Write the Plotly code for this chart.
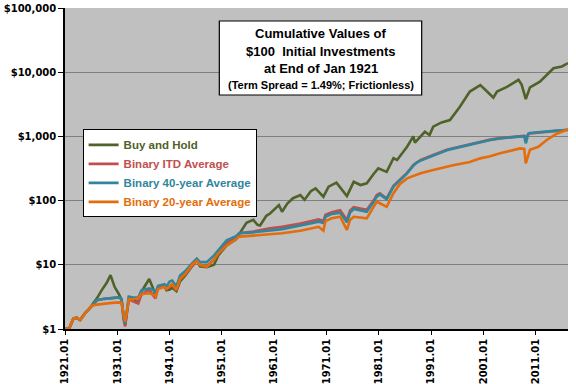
import plotly.graph_objects as go

# ---- data ----
bh_years = [1921.0, 1921.8, 1922.6, 1923.2, 1923.9, 1924.8, 1925.5, 1926.1, 1927.1, 1928.0,
            1929.0, 1929.7, 1930.5, 1931.3, 1931.8, 1932.2, 1932.5, 1932.9, 1933.2, 1934.0,
            1935.0, 1935.6, 1936.5, 1937.1, 1938.0, 1938.3, 1938.8, 1940.0, 1940.4, 1941.0,
            1941.5, 1942.3, 1943.0, 1944.0, 1945.5, 1946.2, 1946.8, 1948.1, 1949.5, 1950.3,
            1951.9, 1953.7, 1954.3, 1955.7, 1957.0, 1957.8, 1958.3, 1959.5, 1960.2, 1961.5,
            1961.9, 1962.5, 1963.5, 1964.6, 1966.0, 1966.8, 1968.0, 1968.9, 1970.4, 1971.4,
            1972.9, 1974.9, 1976.2, 1977.5, 1978.7, 1980.0, 1980.9, 1982.5, 1983.8, 1984.5,
            1985.5, 1986.4, 1987.6, 1987.9, 1989.8, 1990.7, 1991.4, 1993.0, 1994.6, 1996.5,
            1998.4, 2000.4, 2001.7, 2002.9, 2003.6, 2005.5, 2007.7, 2008.3, 2009.1, 2009.9,
            2011.8, 2013.1, 2014.4, 2016.0, 2017.2]
buy_and_hold = [1.0, 1.02, 1.45, 1.5, 1.38, 1.75, 2.0, 2.3, 3.0, 4.0,
                5.3, 6.9, 4.5, 3.5, 2.9, 1.6, 1.15, 2.0, 3.0, 2.8,
                2.6, 3.8, 5.0, 6.0, 4.0, 3.3, 4.6, 4.6, 4.0, 4.1,
                4.4, 3.9, 5.5, 6.8, 10, 12, 9.5, 9.2, 10, 14,
                20, 25, 30, 45, 50, 42, 41, 58, 63, 79,
                85, 67, 90, 109, 122, 103, 140, 155, 115, 165,
                190, 118, 196, 175, 186, 260, 318, 280, 456, 430,
                550, 690, 1000, 800, 1180, 1050, 1420, 1650, 1800, 2900,
                5000, 6300, 5000, 4000, 5000, 5900, 7600, 6400, 3800, 5800,
                7100, 9100, 11500, 12300, 13900]

bin_years = [1921.0, 1921.8, 1922.6, 1923.2, 1923.9, 1924.8, 1925.5, 1926.1, 1927.1, 1928.5,
             1930.0, 1931.3, 1931.8, 1932.2, 1932.5, 1932.9, 1933.2, 1934.0, 1935.0, 1935.6,
             1937.1, 1938.0, 1938.3, 1938.8, 1940.0, 1940.4, 1941.0, 1941.5, 1942.3, 1943.0,
             1944.0, 1945.5, 1946.2, 1946.8, 1948.1, 1949.5, 1950.3, 1951.9, 1953.7, 1954.3,
             1957.0, 1960.2, 1962.5, 1966.0, 1969.5, 1970.4, 1970.8, 1972.0, 1973.6, 1974.9,
             1975.5, 1976.2, 1977.5, 1978.7, 1980.0, 1980.6, 1981.2, 1982.5, 1983.8, 1985.0,
             1986.4, 1987.6, 1988.3, 1989.0, 1991.4, 1994.0, 1995.2, 1998.4, 2000.4, 2002.3,
             2004.2, 2008.0, 2008.8, 2009.1, 2009.6, 2009.9, 2011.5, 2013.1, 2015.0, 2016.0,
             2017.2]
binary_itd = [1.0, 1.02, 1.45, 1.5, 1.38, 1.75, 2.0, 2.3, 2.8, 2.95,
              3.05, 3.1, 2.9, 1.4, 1.1, 1.9, 2.9, 2.7, 2.5, 3.4,
              4.1, 3.2, 3.0, 4.4, 4.7, 4.2, 4.6, 4.8, 4.0, 6.0,
              7.2, 10.2, 11.5, 10, 9.5, 12, 16, 22, 27, 31,
              33, 37, 39, 44, 51, 48, 60, 66, 71, 50,
              70, 79, 76, 72, 100, 122, 130, 108, 170, 210,
              270, 360, 400, 430, 515, 620, 655, 760, 830, 890,
              940, 1010, 1020, 960, 1090, 1110, 1150, 1190, 1220, 1240,
              1260]
binary_40y = [1.0, 1.02, 1.45, 1.5, 1.38, 1.75, 2.0, 2.3, 2.8, 2.95,
              3.05, 3.1, 2.9, 1.5, 1.2, 2.0, 3.2, 3.1, 3.1, 4.0,
              4.3, 4.0, 3.6, 4.7, 5.0, 4.6, 5.5, 5.7, 4.6, 6.8,
              8.0, 11, 12.5, 11, 11, 14, 17, 24, 28, 31,
              32, 34, 36, 41, 47, 45, 56, 62, 65, 46,
              65, 74, 71, 67, 95, 115, 125, 105, 165, 205,
              265, 350, 395, 420, 505, 610, 645, 750, 820, 880,
              930, 1000, 1010, 780, 1110, 1130, 1170, 1200, 1230, 1250,
              1270]
binary_20y = [1.0, 1.02, 1.45, 1.5, 1.38, 1.75, 2.0, 2.3, 2.4, 2.5,
              2.55, 2.6, 2.55, 1.7, 1.3, 2.0, 2.9, 2.9, 3.0, 3.5,
              3.6, 3.4, 3.2, 4.2, 4.5, 4.2, 4.6, 5.0, 4.1, 6.0,
              7.2, 10.5, 11.5, 10, 9.3, 12, 15, 20, 25, 27.5,
              28.5, 30, 31, 34, 39, 34, 48, 53, 56, 35,
              50, 56, 54, 53, 80, 96, 91, 80, 130, 180,
              222, 245, 255, 267, 300, 338, 355, 400, 455, 490,
              545, 650, 640, 380, 520, 620, 690, 880, 1100, 1170,
              1290]

series_names = ["Buy and Hold", "Binary ITD Average", "Binary 40-year Average", "Binary 20-year Average"]
series_colors = ["#4F6228", "#C0504D", "#31859C", "#E46C0A"]

y_tickvals = [1, 10, 100, 1000, 10000, 100000]
y_ticktext = ["$1", "$10", "$100", "$1,000", "$10,000", "$100,000"]
x_tickvals = [1921, 1931, 1941, 1951, 1961, 1971, 1981, 1991, 2001, 2011]
x_ticktext = ["1921.01", "1931.01", "1941.01", "1951.01", "1961.01", "1971.01",
              "1981.01", "1991.01", "2001.01", "2011.01"]

title_lines = ["Cumulative Values of", "$100  Initial Investments", "at End of Jan 1921",
               "(Term Spread = 1.49%; Frictionless)"]

# ---- figure ----
fig = go.Figure()
xs = [bh_years, bin_years, bin_years, bin_years]
ys = [buy_and_hold, binary_itd, binary_40y, binary_20y]
for name, color, x, y in zip(series_names, series_colors, xs, ys):
    fig.add_trace(go.Scatter(
        x=x, y=y, mode="lines",
        line=dict(color=color, width=2.6),
        name=f"<span style='color:{color}'>{name}</span>",
    ))

tick_font = dict(family="DejaVu Sans", size=10, color="black", weight="bold")

fig.update_layout(
    width=576, height=384,
    margin=dict(l=65, r=8, t=8, b=55, autoexpand=False),
    paper_bgcolor="white",
    plot_bgcolor="#C0C0C0",
    showlegend=True,
    legend=dict(
        x=0.035, y=0.622, xanchor="left", yanchor="top",
        bgcolor="white", bordercolor="black", borderwidth=1,
        font=dict(family="Liberation Sans", size=11.5, weight="bold"),
        tracegroupgap=0, itemwidth=30,
    ),
    xaxis=dict(
        range=[1921.0, 2017.17], automargin=False,
        tickvals=x_tickvals, ticktext=x_ticktext,
        tickangle=-90, tickfont=tick_font,
        ticks="outside", ticklen=4, tickcolor="black",
        showline=True, linecolor="black", linewidth=1.5,
        showgrid=False, zeroline=False,
    ),
    yaxis=dict(
        type="log", range=[0, 5], automargin=False,
        tickvals=y_tickvals, ticktext=y_ticktext,
        tickfont=tick_font,
        ticks="outside", ticklen=5, tickcolor="black",
        showline=True, linecolor="black", linewidth=1.5,
        showgrid=True, gridcolor="#808080", gridwidth=1,
        zeroline=False,
    ),
)

# Title box
fig.add_shape(type="rect", xref="paper", yref="paper",
              x0=0.3068, x1=0.7091, y0=0.729, y1=0.9595,
              fillcolor="white", line=dict(color="black", width=1.2), layer="above")
line_y = [0.922, 0.866, 0.810, 0.760]
line_size = [13, 13, 13, 11]
for txt, yy, sz in zip(title_lines, line_y, line_size):
    fig.add_annotation(xref="paper", yref="paper", x=0.508, y=yy,
                       text=txt, showarrow=False, xanchor="center", yanchor="middle",
                       font=dict(family="Liberation Sans", size=sz, color="black", weight="bold"))

fig.write_html("out.html",
               config={"displayModeBar": False},
               post_script="document.body.style.margin='0px';document.body.style.overflow='hidden';")
